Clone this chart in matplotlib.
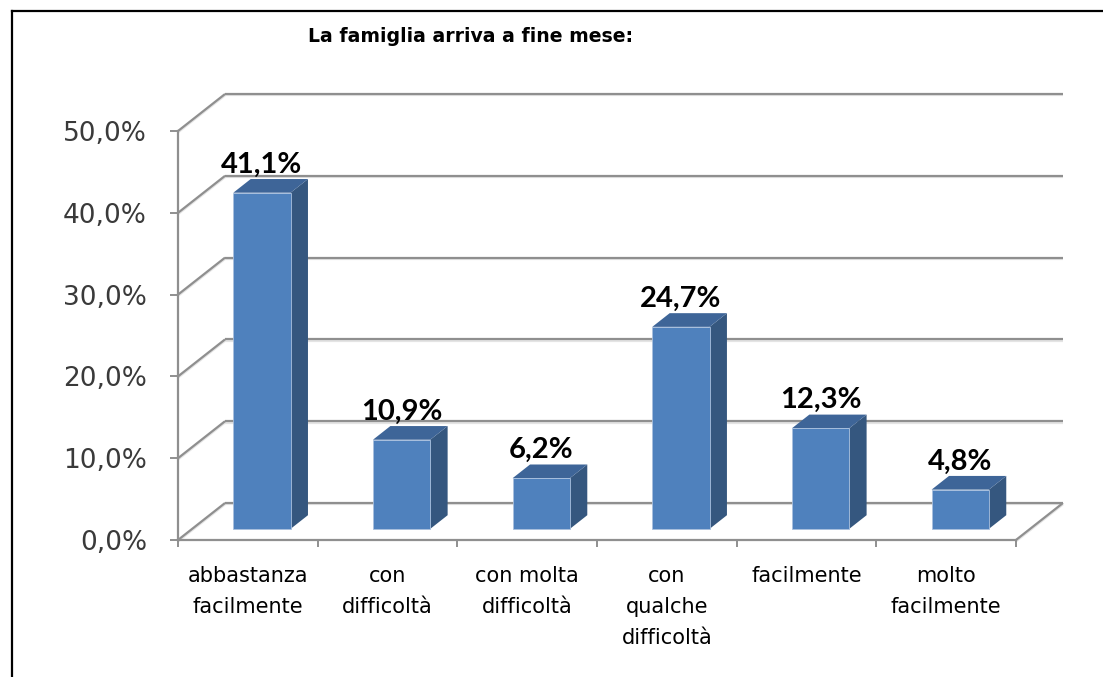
import matplotlib.pyplot as plt
import matplotlib.patheffects as pe
from matplotlib.patches import Polygon, Rectangle
from matplotlib.lines import Line2D

categories = ["abbastanza\nfacilmente", "con\ndifficoltà", "con molta\ndifficoltà",
              "con\nqualche\ndifficoltà", "facilmente", "molto\nfacilmente"]
values = [41.1, 10.9, 6.2, 24.7, 12.3, 4.8]
yticks = [0, 10, 20, 30, 40, 50]
ytick_labels = ["0,0%", "10,0%", "20,0%", "30,0%", "40,0%", "50,0%"]
value_labels = [("%.1f%%" % v).replace(".", ",") for v in values]

fig = plt.figure(figsize=(11.03, 6.77), dpi=100)
ax = fig.add_axes([0.1614, 0.2024, 0.7597, 0.6041])
n = len(categories)
ax.set_xlim(0, n)
ax.set_ylim(0, 50)

# depth of the fake 3d box, in data units
DX, DY = 0.3365, 4.52
bar_w = 0.41
f0, f1 = 0.30, 0.67

grey = '#8f8f8f'
shadow = [pe.SimpleLineShadow(offset=(0, -1.0), shadow_color='#e4e4e4', alpha=1), pe.Normal()]
gkw = dict(color=grey, lw=1.6, solid_capstyle='butt', clip_on=False, path_effects=shadow, zorder=1)

for v in yticks:
    ax.plot([DX, n + DX], [v + DY, v + DY], **gkw)
    ax.plot([0, DX], [v, v + DY], **gkw)
ax.plot([n, n + DX], [0, DY], **gkw)

front_c, side_c, top_c = '#4f81bd', '#35577f', '#3e6598'
for i, v in enumerate(values):
    x0 = i + 0.5 - bar_w / 2
    ax0, ay0 = x0 + f0 * DX, f0 * DY
    ax1, ay1 = x0 + f1 * DX, f1 * DY
    ax.add_patch(Polygon([(ax0 + bar_w, ay0), (ax1 + bar_w, ay1), (ax1 + bar_w, v + ay1), (ax0 + bar_w, v + ay0)],
                         closed=True, fc=side_c, ec='none', clip_on=False, zorder=3))
    ax.add_patch(Polygon([(ax0, v + ay0), (ax0 + bar_w, v + ay0), (ax1 + bar_w, v + ay1), (ax1, v + ay1)],
                         closed=True, fc=top_c, ec='none', clip_on=False, zorder=3))
    ax.add_patch(Rectangle((ax0, ay0), bar_w, v, fc=front_c, ec='#a9c0de', lw=0.6, clip_on=False, zorder=4))
    ax.annotate(value_labels[i], xy=(ax0 + bar_w / 2, v + ay1), xytext=(0, 1), textcoords='offset points',
                ha='center', va='bottom', fontsize=21, fontfamily='Lato', fontweight='bold', color='black',
                zorder=5)

for s in ['top', 'right']:
    ax.spines[s].set_visible(False)
for s in ['left', 'bottom']:
    ax.spines[s].set_color(grey)
    ax.spines[s].set_linewidth(1.6)
    ax.spines[s].set_zorder(2)

ax.set_yticks(yticks, ytick_labels)
ax.tick_params(axis='y', length=5.8, width=1.4, color=grey, pad=16.5, labelsize=19, labelcolor='#3a3a3a')
ax.set_xticks(range(n + 1), [''] * (n + 1))
ax.tick_params(axis='x', length=5, width=1.4, color=grey)

for i, c in enumerate(categories):
    ax.annotate(c, xy=(i + 0.5, 0), xycoords=('data', 'axes fraction'), xytext=(0, -19),
                textcoords='offset points', ha='center', va='top', fontsize=15, linespacing=1.68,
                color='black')

fig.text(0.427, 1 - 36 / 677, "La famiglia arriva a fine mese:", ha='center', va='center',
         fontsize=13.6, fontweight='bold', color='black')

# outer chart frame (only top and left edges fall inside the picture)
fx, fy = 12 / 1103, 1 - 10.5 / 677
fig.add_artist(Line2D([fx, 1], [fy, fy], transform=fig.transFigure, color='black', lw=1.6))
fig.add_artist(Line2D([fx, fx], [0, fy], transform=fig.transFigure, color='black', lw=1.6))

fig.savefig('out.png', dpi=100)
